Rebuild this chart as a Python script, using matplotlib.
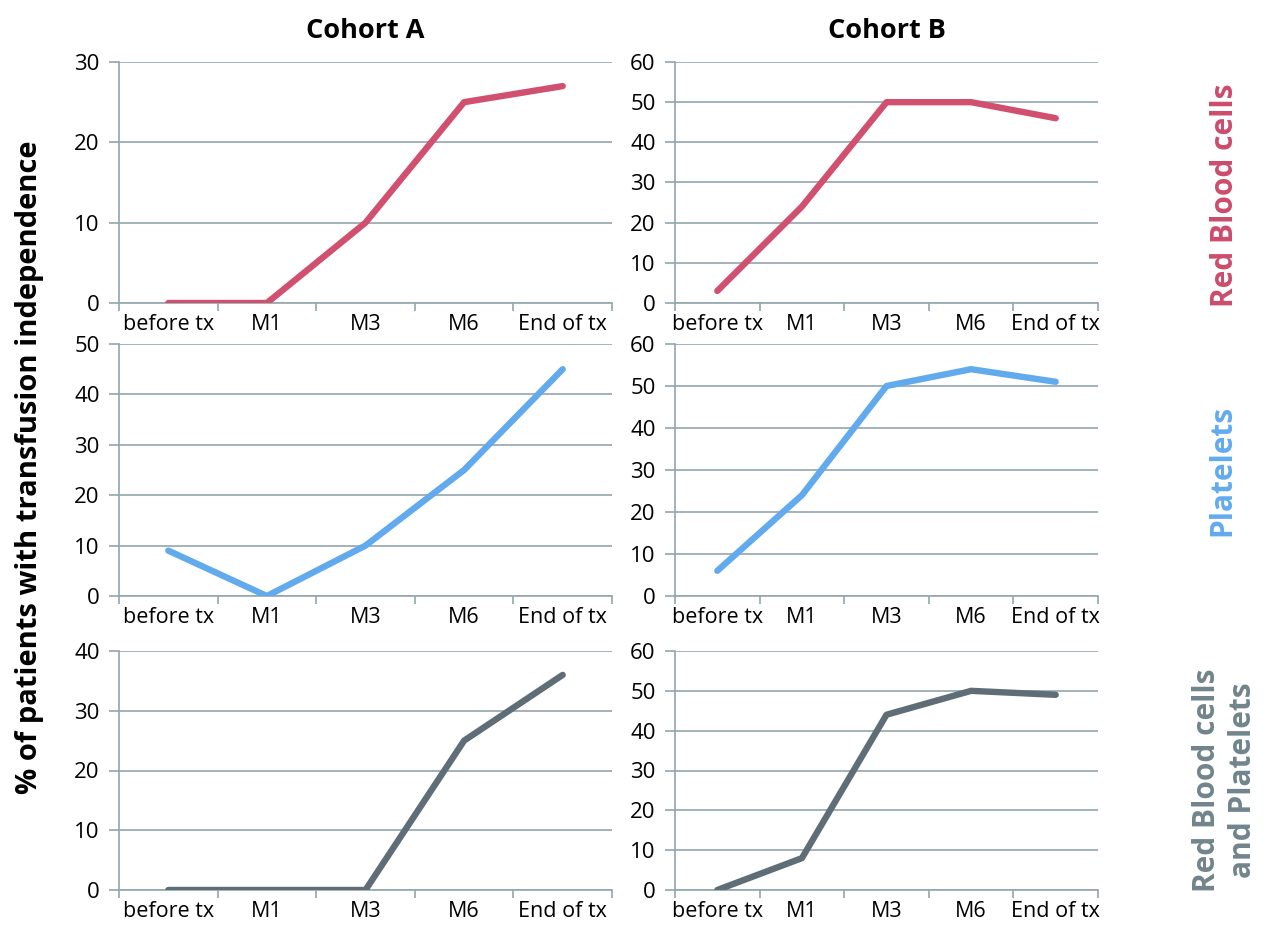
import matplotlib
matplotlib.use("Agg")
import matplotlib.pyplot as plt
import numpy as np

plt.rcParams['font.family'] = ['Open Sans', 'DejaVu Sans']

categories = ["before tx", "M1", "M3", "M6", "End of tx"]

cohortA_rbc = [0, 0, 10, 25, 27]
cohortB_rbc = [3, 24, 50, 50, 46]
cohortA_plt = [9, 0, 10, 25, 45]
cohortB_plt = [6, 24, 50, 54, 51]
cohortA_both = [0, 0, 0, 25, 36]
cohortB_both = [0, 8, 44, 50, 49]

ymaxA = [30, 50, 40]
ymaxB = [60, 60, 60]

col_titles = ["Cohort A", "Cohort B"]
row_labels = ["Red Blood cells", "Platelets", "Red Blood cells\nand Platelets"]
colors = ["#d1506f", "#62aaee", "#5f6e76"]
label_colors = ["#cc4c6c", "#62aaee", "#71848c"]
grid_color = "#93a6ae"

W, H = 1280, 933
fig = plt.figure(figsize=(W / 100, H / 100), dpi=100)

def rect(x0, x1, y0, y1):
    return [x0 / W, 1 - y1 / H, (x1 - x0) / W, (y1 - y0) / H]

xs = [(119, 612), (675, 1098)]
ys = [(62, 303), (344, 596), (651, 890)]

data = [[cohortA_rbc, cohortB_rbc], [cohortA_plt, cohortB_plt], [cohortA_both, cohortB_both]]
ymax = [[ymaxA[i], ymaxB[i]] for i in range(3)]

x = np.arange(len(categories))
for r in range(3):
    for c in range(2):
        ax = fig.add_axes(rect(xs[c][0], xs[c][1], ys[r][0], ys[r][1]))
        ax.plot(x, data[r][c], color=colors[r], lw=4.6, solid_capstyle='round', solid_joinstyle='round', zorder=3)
        ax.set_xlim(-0.5, 4.5)
        ax.set_ylim(0, ymax[r][c])
        ax.set_yticks(np.arange(0, ymax[r][c] + 1, 10))
        ax.yaxis.grid(True, color=grid_color, lw=1.2)
        ax.set_axisbelow(True)
        for s in ['top', 'right']:
            ax.spines[s].set_visible(False)
        ax.spines['left'].set_color(grid_color)
        ax.spines['bottom'].set_color(grid_color)
        ax.spines['left'].set_linewidth(1.2)
        ax.spines['bottom'].set_linewidth(1.2)
        ax.set_xticks(x)
        ax.set_xticklabels(categories)
        ax.set_xticks(np.arange(-0.5, 5, 1), minor=True)
        ax.tick_params(axis='x', which='major', length=0, pad=8, labelsize=15.5)
        ax.tick_params(axis='x', which='minor', length=6, width=1.2, color=grid_color, direction='out')
        ax.tick_params(axis='y', length=7, width=1.2, color=grid_color, pad=7, labelsize=16)
        if r == 0:
            ax.set_title(col_titles[c], fontsize=19.5, fontweight='bold', pad=17)

fig.text(30 / W, 1 - 467 / H, "% of patients with transfusion independence", rotation=90,
         ha='center', va='center', fontsize=21, fontweight='bold')

label_pos = [(1225, 195), (1222, 470), (1225, 780)]
for i, (lx, ly) in enumerate(label_pos):
    fig.text(lx / W, 1 - ly / H, row_labels[i], rotation=90, ha='center', va='center',
             fontsize=21.5, fontweight='bold', color=label_colors[i], linespacing=1.25)

fig.savefig("out.png", dpi=100)
